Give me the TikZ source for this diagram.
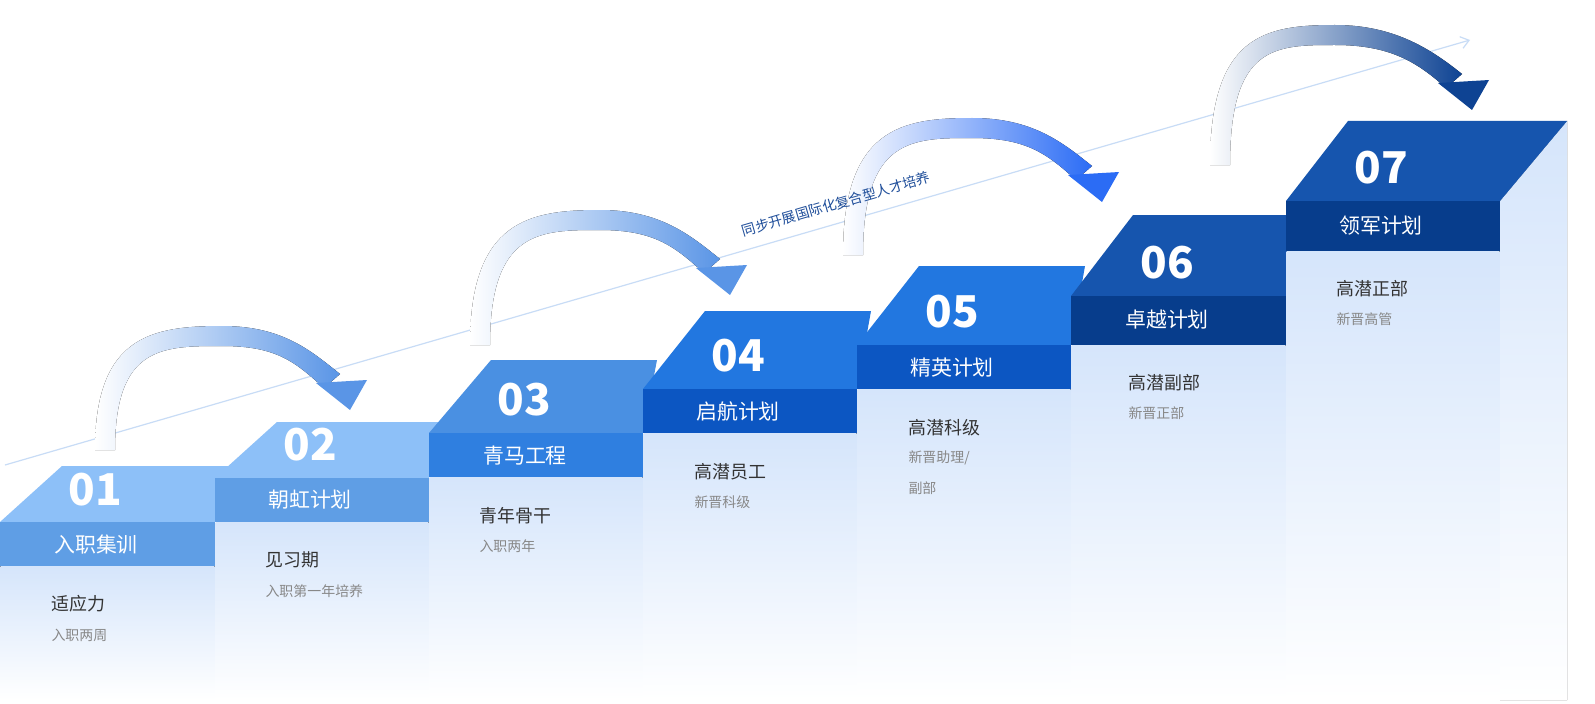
\documentclass[tikz,border=0pt]{standalone}
\usepackage{fontspec}
\setmainfont{Noto Sans CJK SC}
\usetikzlibrary{calc,arrows.meta}
\definecolor{bodyc}{HTML}{D5E5FB}
\definecolor{ttl}{HTML}{333333}
\definecolor{sub}{HTML}{888888}
\definecolor{t1}{HTML}{8DC0F8}\definecolor{b1}{HTML}{5F9EE5}
\definecolor{t3}{HTML}{4A90E2}\definecolor{b3}{HTML}{2F7FE0}
\definecolor{t4}{HTML}{2277E0}\definecolor{b4}{HTML}{0C56C2}
\definecolor{t6}{HTML}{1655AE}\definecolor{b6}{HTML}{073D8C}
\definecolor{a1}{HTML}{5A95E6}\definecolor{a3}{HTML}{2B6CF5}\definecolor{a4}{HTML}{0E4393}
\definecolor{lab}{HTML}{1F4E9A}\definecolor{line}{HTML}{C8DCF6}
\tikzset{
 num/.style={text=white,font=\fontsize{44}{48}\selectfont\bfseries},
 band/.style={text=white,font=\fontsize{21}{24}\selectfont},
 main/.style={text=ttl,anchor=west,font=\fontsize{18}{22}\selectfont},
 subt/.style={text=sub,anchor=west,font=\fontsize{14}{18}\selectfont},
}
\newcommand\mystep[7]{%
 \fill[top color=bodyc,bottom color=white] (#1+0.5,#4) rectangle (#2-0.5,700);
 \fill[#6] (#1,#3) -- (#1+62,#5) -- (#2+14,#5) -- (#2,#3) -- cycle;
 \fill[#7] (#1,#3) rectangle (#2,#4);
}
\newcommand\myarc[7]{%
 \fill[left color=white,right color=#7]
  (#1,#2) .. controls (#1,#4+10) and (#3-70,#4) .. (#3,#4)
  .. controls (#3+60,#4) and ($(#5,#6)+(-40,-60)$) .. ($(#5,#6)+(-10,-36)$)
  -- ($(#5,#6)+(-26,-22)$)
  .. controls ($(#5,#6)+(-55,-48)$) and (#3+55,#4+20) .. (#3,#4+20)
  .. controls (#3-60,#4+20) and (#1+20,#4+20) .. (#1+20,#2) -- cycle;
 \fill[#7] ($(#5,#6)+(-34,-27)$) -- ($(#5,#6)+(17,-30)$) -- (#5,#6) -- cycle;
}
\begin{document}
\begin{tikzpicture}[x=1bp,y=-1bp]
\fill[white] (0,0) rectangle (1595,704);
\coordinate (ls) at (5,465); \coordinate (le) at (1470,40);
\draw[color=line,line width=1.2,-{Straight Barb[length=8,width=12]}] (ls) -- (le);
\myarc{95}{450}{222}{326}{350}{410}{a1}
\myarc{470}{345}{600}{210}{730}{295}{a1}
\myarc{843}{255}{972}{118}{1102}{202}{a3}
\myarc{1210}{165}{1335}{25}{1472}{110}{a4}
\node[rotate=16.2,text=lab,font=\fontsize{14}{16}\selectfont] (tl) at (836,204) {同步开展国际化复合型人才培养};
\fill[top color=bodyc,bottom color=white] (1500,201) -- (1567,121) -- (1567,700) -- (1500,700) -- cycle;
\mystep{0}{215}{522}{566}{466}{t1}{b1}
\mystep{215}{429}{478}{522}{422}{t1}{b1}
\mystep{429}{643}{433}{477}{360}{t3}{b3}
\mystep{643}{857}{389}{433}{311}{t4}{b4}
\mystep{857}{1071}{345}{389}{266}{t4}{b4}
\mystep{1071}{1286}{296}{345}{215}{t6}{b6}
\fill[t6] (1286,201) -- (1348,121) -- (1567,121) -- (1500,201) -- cycle;
\fill[b6] (1286,201) rectangle (1500,251);
\fill[top color=bodyc,bottom color=white] (1286.5,251) rectangle (1499.5,700);
\node[num] (n1) at (95,490) {01}; \node[band] (b1) at (96,545) {入职集训};
\node[main] (m1) at (48,604) {适应力}; \node[subt] (s1) at (48,635) {入职两周};
\node[num] (n2) at (310,445) {02}; \node[band] (b2) at (310,500) {朝虹计划};
\node[main] (m2) at (262,560) {见习期}; \node[subt] (s2) at (262,591) {入职第一年培养};
\node[num] (n3) at (524,400) {03}; \node[band] (b3) at (525,456) {青马工程};
\node[main] (m3) at (476,516) {青年骨干}; \node[subt] (s3) at (476,546) {入职两年};
\node[num] (n4) at (738,356) {04}; \node[band] (b4) at (738,412) {启航计划};
\node[main] (m4) at (691,472) {高潜员工}; \node[subt] (s4) at (691,502) {新晋科级};
\node[num] (n5) at (952,312) {05}; \node[band] (b5) at (952,368) {精英计划};
\node[main] (m5) at (905,428) {高潜科级}; \node[subt] (s5) at (905,458) {新晋助理/};
\node[subt] (s5b) at (905,488) {副部};
\node[num] (n6) at (1167,263) {06}; \node[band] (b6) at (1167,320) {卓越计划};
\node[main] (m6) at (1125,383) {高潜副部}; \node[subt] (s6) at (1125,413) {新晋正部};
\node[num] (n7) at (1381,168) {07}; \node[band] (b7) at (1381,226) {领军计划};
\node[main] (m7) at (1333,289) {高潜正部}; \node[subt] (s7) at (1333,319) {新晋高管};
\pgfresetboundingbox
\useasboundingbox (0,0) rectangle (1595,704);
\end{tikzpicture}
\end{document}
